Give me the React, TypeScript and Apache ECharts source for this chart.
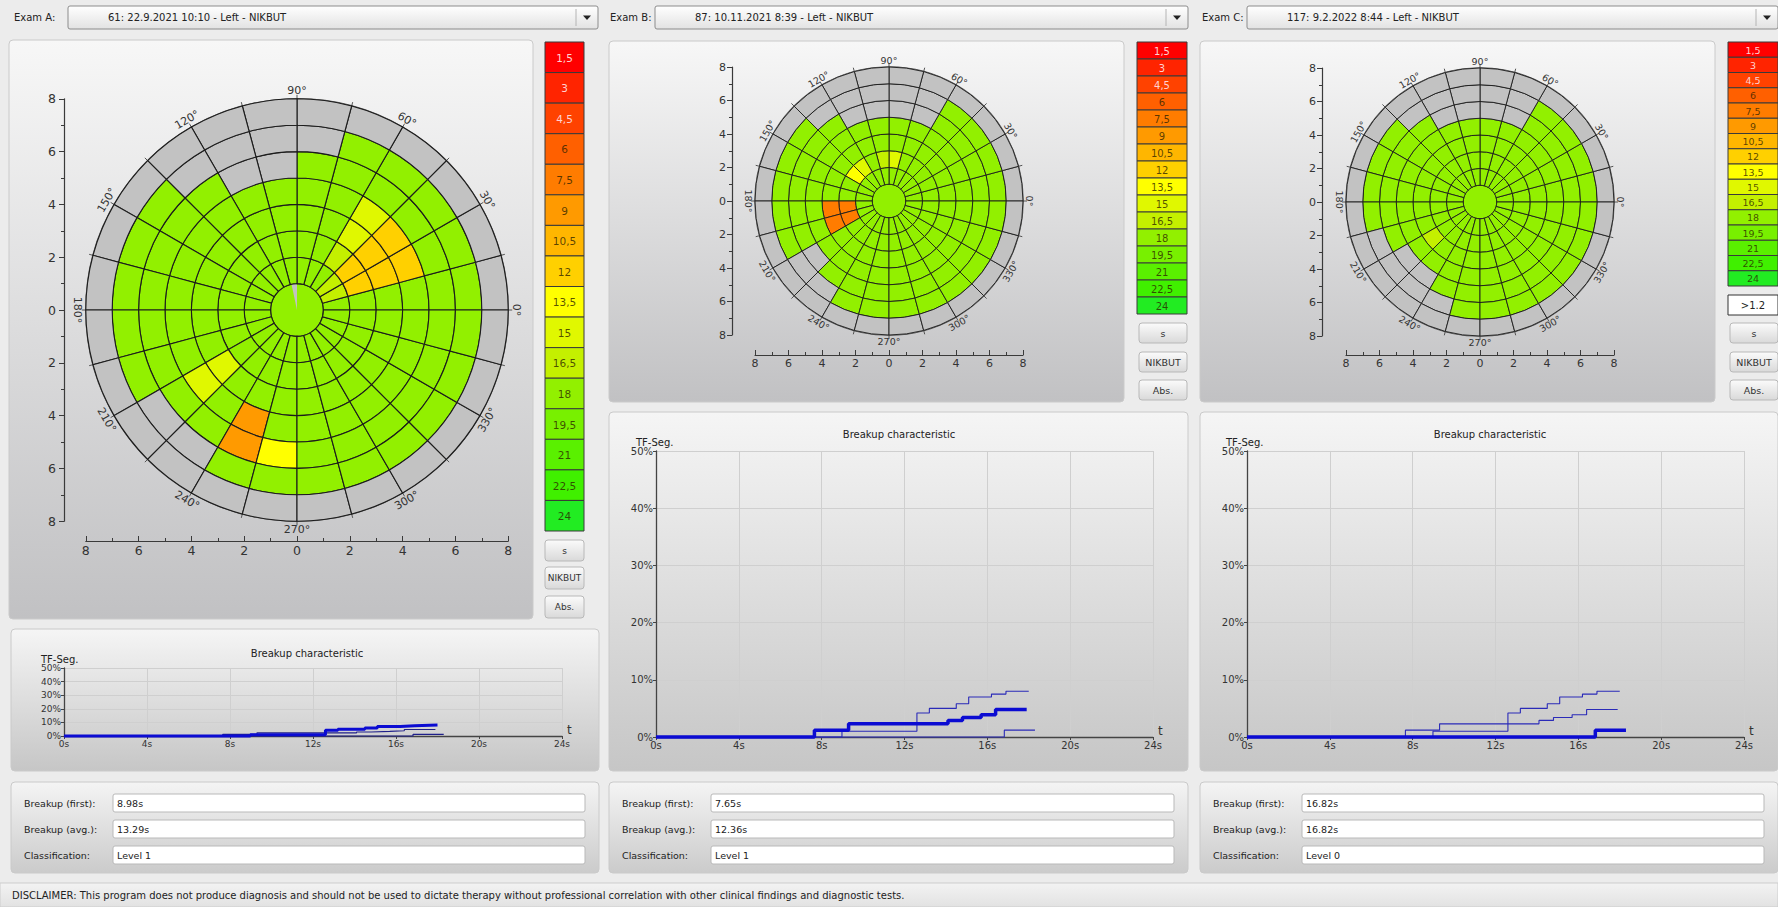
import React, { useEffect, useRef } from "react";
import * as echarts from "echarts";

const W = 1778;
const H = 907;
const FONT = "'DejaVu Sans', Verdana, sans-serif";

// ---------- colour scale (NIKBUT, seconds) ----------
const LEGEND_VALUES = [1.5, 3, 4.5, 6, 7.5, 9, 10.5, 12, 13.5, 15, 16.5, 18, 19.5, 21, 22.5, 24];
const LEGEND_LABELS = ["1,5", "3", "4,5", "6", "7,5", "9", "10,5", "12", "13,5", "15", "16,5", "18", "19,5", "21", "22,5", "24"];
const LEGEND_COLORS = ["#ff0000", "#ff2400", "#ff4200", "#ff6000", "#ff7c00", "#ff9a00", "#ffb600", "#ffd000", "#ffff00", "#e0f800", "#c4f000", "#92f000", "#78f000", "#5af000", "#40f000", "#22ec22"];
const NO_DATA = "#c2c2c2";
const BUTTON_LABELS = ["s", "NIKBUT", "Abs."];
const THRESHOLD_LABEL = ">1.2";

// ---------- polar map ----------
const ANGLE_LABELS = [0, 30, 60, 90, 120, 150, 180, 210, 240, 270, 300, 330];
const SECTOR_DEG = 15;
const MAX_R = 8;
const GREEN = 18;

// outer radius of the measured zone in each 15° sector (0°..345°)
const REACH_A = [7, 7, 7, 7, 7, 6, 5, 5, 6, 7, 7, 7, 7, 7, 6, 6, 7, 7, 7, 7, 7, 7, 7, 7];
const REACH_B = [7, 7, 7, 7, 5, 5, 5, 5, 6, 7, 7, 7, 7, 7, 5, 6, 7, 7, 7, 7, 7, 7, 7, 7];
const REACH_C = [7, 7, 7, 7, 5, 5, 5, 5, 6, 7, 7, 7, 7, 6, 5, 5, 6, 7, 7, 7, 7, 7, 7, 7];

// [sector, ring, breakup time s]
const CELLS_A = [
  [1, 1, 16.5], [2, 1, 16.5],
  [1, 2, 12], [1, 3, 12], [1, 4, 12],
  [2, 2, 12], [2, 3, 12], [2, 4, 12],
  [3, 2, 16.5], [3, 3, 15], [3, 4, 15],
  [14, 3, 15], [14, 4, 15],
  [16, 4, 9], [16, 5, 9],
  [17, 5, 13.5],
];
const CELLS_B = [
  [12, 2, 7.5], [12, 3, 7.5], [13, 2, 7.5], [13, 3, 7.5],
  [9, 2, 13.5], [8, 2, 15], [6, 2, 16.5], [5, 2, 15],
];
const CELLS_C = [[14, 3, 16.5]];

const CENTER_VALUES = [18, 18, 18];
const CENTER_GAP_A = [90, 102];

// ---------- breakup characteristic curves [t s, TF-Seg %] ----------
const CURVE_A = [[0, 0], [8.98, 1.0], [12.6, 4.2], [13.2, 5.0], [14.5, 5.8], [15.1, 7.0], [16.2, 7.5], [16.9, 8.0], [18.0, 8.0]];
const CURVE_B = [[0, 0], [7.65, 1.2], [9.3, 2.3], [14.1, 2.9], [14.8, 3.4], [15.7, 3.9], [16.4, 4.8], [17.9, 4.8]];
const CURVE_C = [[0, 0], [16.82, 1.2], [18.3, 1.2]];

// ---------- texts ----------
const EXAM_LABELS = ["Exam A:", "Exam B:", "Exam C:"];
const EXAM_NAMES = ["61: 22.9.2021 10:10 - Left - NIKBUT", "87: 10.11.2021 8:39 - Left - NIKBUT", "117: 9.2.2022 8:44 - Left - NIKBUT"];
const INFO_LABELS = ["Breakup (first):", "Breakup (avg.):", "Classification:"];
const BREAKUP_FIRST = ["8.98s", "7.65s", "16.82s"];
const BREAKUP_AVG = ["13.29s", "12.36s", "16.82s"];
const CLASSIFICATION = ["Level 1", "Level 1", "Level 0"];
const CHART_TITLE = "Breakup characteristic";
const Y_NAME = "TF-Seg.";
const DISCLAIMER = "DISCLAIMER: This program does not produce diagnosis and should not be used to dictate therapy without professional correlation with other clinical findings and diagnostic tests.";

const EXAMS = [
  { reach: REACH_A, cells: CELLS_A, gap: CENTER_GAP_A },
  { reach: REACH_B, cells: CELLS_B, gap: null },
  { reach: REACH_C, cells: CELLS_C, gap: null },
];
const CURVES = [CURVE_A, CURVE_B, CURVE_C];

// ---------- layout ----------
const LAYOUT = [
  {
    labelX: 14, combo: { x: 68, y: 6, w: 530, h: 23 },
    polarPanel: { x: 9, y: 40, w: 524, h: 579 },
    polar: { cx: 297, cy: 310, u: 26.4, yAxisX: 64, xAxisY: 541, fs: 12.5, angleFs: 11, angleOff: 8.5, lw: 1.1, margin: 8 },
    legend: { x: 545, y: 42, w: 39, h: 489, fs: 10.5 },
    extra: null,
    btnFs: 9,
    buttons: [{ x: 545, y: 540, w: 39, h: 21 }, { x: 545, y: 567, w: 39, h: 22 }, { x: 545, y: 596, w: 39, h: 22 }],
    linePanel: { x: 11, y: 629, w: 588, h: 142 },
    grid: { left: 64, top: 668, right: 562, bottom: 736 },
    title: { x: 307, y: 653 }, tf: { x: 41, y: 659 }, lineFs: 9, thick: 3, thin: "#20208a",
    info: { x: 11, y: 782, w: 588, h: 91 },
  },
  {
    labelX: 610, combo: { x: 655, y: 6, w: 533, h: 23 },
    polarPanel: { x: 609, y: 41, w: 515, h: 361 },
    polar: { cx: 889, cy: 201, u: 16.75, yAxisX: 732, xAxisY: 355, fs: 11, angleFs: 9.5, angleOff: 6.5, lw: 0.9, margin: 6 },
    legend: { x: 1137, y: 42, w: 50, h: 272, fs: 10 },
    extra: null,
    btnFs: 9.5,
    buttons: [{ x: 1139, y: 323, w: 48, h: 20 }, { x: 1139, y: 352, w: 48, h: 20 }, { x: 1139, y: 380, w: 48, h: 20 }],
    linePanel: { x: 609, y: 412, w: 579, h: 359 },
    grid: { left: 656, top: 451, right: 1153, bottom: 737 },
    title: { x: 899, y: 434 }, tf: { x: 636, y: 442 }, lineFs: 10, thick: 3.5, thin: "#2a2ab8",
    info: { x: 609, y: 782, w: 579, h: 91 },
  },
  {
    labelX: 1202, combo: { x: 1247, y: 6, w: 531, h: 23 },
    polarPanel: { x: 1200, y: 41, w: 515, h: 361 },
    polar: { cx: 1480, cy: 202, u: 16.75, yAxisX: 1322, xAxisY: 355, fs: 11, angleFs: 9.5, angleOff: 6.5, lw: 0.9, margin: 6 },
    legend: { x: 1728, y: 42, w: 50, h: 244, fs: 9.5 },
    extra: { x: 1728, y: 295, w: 50, h: 20 },
    btnFs: 9.5,
    buttons: [{ x: 1730, y: 323, w: 48, h: 20 }, { x: 1730, y: 352, w: 48, h: 20 }, { x: 1730, y: 380, w: 48, h: 20 }],
    linePanel: { x: 1200, y: 412, w: 578, h: 359 },
    grid: { left: 1247, top: 451, right: 1744, bottom: 737 },
    title: { x: 1490, y: 434 }, tf: { x: 1226, y: 442 }, lineFs: 10, thick: 3.5, thin: "#2a2ab8",
    info: { x: 1200, y: 782, w: 578, h: 91 },
  },
];

const grad = (c0: string, c1: string) => ({
  type: "linear", x: 0, y: 0, x2: 0, y2: 1,
  colorStops: [{ offset: 0, color: c0 }, { offset: 1, color: c1 }],
});
const rect = (x: number, y: number, w: number, h: number, fill: any, stroke: any, r = 0, z = -10, lw = 1) => ({
  type: "rect", shape: { x, y, width: w, height: h, r }, style: { fill, stroke, lineWidth: lw }, z, silent: true,
});
const txt = (x: number, y: number, text: string, fs: number, fill = "#222", align = "left", z = 10) => ({
  type: "text", x, y, z, silent: true,
  style: { text, fill, font: `${fs}px ${FONT}`, align, verticalAlign: "middle", textAlign: align, textVerticalAlign: "middle" },
});

const colorFor = (v: number) => {
  if (v < 0) return NO_DATA;
  let i = LEGEND_VALUES.findIndex((x) => x >= v - 1e-9);
  if (i < 0) i = LEGEND_VALUES.length - 1;
  return LEGEND_COLORS[i];
};

function buildCells(reach: number[], cells: number[][], center: number, gap: number[] | null) {
  const out: number[][] = [[0, 0, center, 360]];
  if (gap) out.push([0, gap[0], -1, gap[1] - gap[0]]);
  for (let k = 0; k < reach.length; k++) {
    for (let ring = 1; ring < MAX_R; ring++) {
      const ov = cells.find((c) => c[0] === k && c[1] === ring);
      const v = ov ? ov[2] : ring + 1 <= reach[k] ? GREEN : -1;
      out.push([ring, k * SECTOR_DEG, v, SECTOR_DEG]);
    }
  }
  return out;
}

function buildOption() {
  const graphic: any[] = [];
  const polar: any[] = [];
  const angleAxis: any[] = [];
  const radiusAxis: any[] = [];
  const grid: any[] = [];
  const xAxis: any[] = [];
  const yAxis: any[] = [];
  const series: any[] = [];

  graphic.push(rect(0, 883, W, 24, grad("#f3f3f3", "#e2e2e2"), "#cdcdcd", 0, -10));
  graphic.push(txt(12, 895, DISCLAIMER, 10, "#222", "left"));

  LAYOUT.forEach((L, i) => {
    // combo box
    const cb = L.combo;
    graphic.push(txt(L.labelX, cb.y + cb.h / 2, EXAM_LABELS[i], 10, "#222"));
    graphic.push(rect(cb.x, cb.y, cb.w, cb.h, grad("#ffffff", "#e2e2e2"), "#8c8c8c", 2, -5));
    graphic.push({ type: "line", shape: { x1: cb.x + cb.w - 22, y1: cb.y + 3, x2: cb.x + cb.w - 22, y2: cb.y + cb.h - 3 }, style: { stroke: "#b4b4b4", lineWidth: 1 }, z: 5, silent: true });
    const ax = cb.x + cb.w - 11, ay = cb.y + cb.h / 2;
    graphic.push({ type: "polygon", shape: { points: [[ax - 4, ay - 2], [ax + 4, ay - 2], [ax, ay + 2.5]] }, style: { fill: "#222" }, z: 5, silent: true });
    graphic.push(txt(cb.x + 40, ay, EXAM_NAMES[i], 10, "#222"));

    // panels
    const pp = L.polarPanel;
    graphic.push(rect(pp.x, pp.y, pp.w, pp.h, grad("#f7f7f7", "#c1c1c3"), "#cacaca", 4, -10));
    const lp = L.linePanel;
    graphic.push(rect(lp.x, lp.y, lp.w, lp.h, grad("#f5f5f5", "#c6c6c6"), "#cacaca", 4, -10));
    const ip = L.info;
    graphic.push(rect(ip.x, ip.y, ip.w, ip.h, grad("#f4f4f4", "#cbcbcb"), "#cacaca", 4, -10));

    // info texts
    const rows = [BREAKUP_FIRST[i], BREAKUP_AVG[i], CLASSIFICATION[i]];
    INFO_LABELS.forEach((lab, r) => {
      const cy = ip.y + 21 + r * 26;
      graphic.push(txt(ip.x + 13, cy, lab, 9.5, "#222"));
      const bx = ip.x + 102;
      graphic.push(rect(bx, cy - 9, ip.w - 102 - 14, 18, "#ffffff", "#b9b9b9", 2, -5));
      graphic.push(txt(bx + 4, cy, rows[r], 9.5, "#222"));
    });

    // legend
    const lg = L.legend;
    const ch = lg.h / LEGEND_LABELS.length;
    LEGEND_LABELS.forEach((lab, j) => {
      graphic.push(rect(lg.x, lg.y + j * ch, lg.w, ch, LEGEND_COLORS[j], "#3a3a3a", 0, 5, 1));
      graphic.push(txt(lg.x + lg.w / 2, lg.y + j * ch + ch / 2 + 0.5, lab, lg.fs, j < 3 ? "#ffd2d2" : "rgba(45,35,0,0.78)", "center", 6));
    });
    if (L.extra) {
      const e = L.extra;
      graphic.push(rect(e.x, e.y, e.w, e.h, "#ffffff", "#333333", 0, 5, 1));
      graphic.push(txt(e.x + e.w / 2, e.y + e.h / 2, THRESHOLD_LABEL, 10, "#222", "center", 6));
    }
    L.buttons.forEach((b, j) => {
      graphic.push(rect(b.x, b.y, b.w, b.h, grad("#fbfbfb", "#d9d9d9"), "#b8b8b8", 3, 5, 1));
      graphic.push(txt(b.x + b.w / 2, b.y + b.h / 2, BUTTON_LABELS[j], L.btnFs, "#333", "center", 6));
    });

    // line chart titles
    graphic.push(txt(L.title.x, L.title.y, CHART_TITLE, 10, "#222", "center"));
    graphic.push(txt(L.tf.x, L.tf.y, Y_NAME, 10, "#222", "left"));

    // polar map
    const P = L.polar;
    const R = P.u * MAX_R;
    polar.push({ center: [P.cx, P.cy], radius: R });
    angleAxis.push({
      polarIndex: i, type: "value", min: 0, max: 360, interval: SECTOR_DEG, startAngle: 0, clockwise: false,
      axisLine: { show: true, lineStyle: { color: "#555", width: 1.4 } },
      axisTick: { show: true, length: 4, lineStyle: { color: "#555" } },
      axisLabel: { show: false }, splitLine: { show: false },
    });
    radiusAxis.push({
      polarIndex: i, type: "value", min: 0, max: MAX_R,
      axisLine: { show: false }, axisTick: { show: false }, axisLabel: { show: false }, splitLine: { show: false },
    });
    const ex = EXAMS[i];
    const lw = P.lw;
    series.push({
      type: "custom", coordinateSystem: "polar", polarIndex: i, silent: true, z: 3,
      dimensions: ["r", "a", "v", "w"], encode: { radius: 0, angle: 1 },
      data: buildCells(ex.reach, ex.cells, CENTER_VALUES[i], ex.gap),
      renderItem: (params: any, api: any) => {
        const r0 = api.value(0), a0 = api.value(1), v = api.value(2), w = api.value(3);
        const c = api.coord([0, 0]);
        const pr = (r: number) => api.coord([r, 0])[0] - c[0];
        const isGap = r0 === 0 && w < 360;
        return {
          type: "sector",
          shape: {
            cx: c[0], cy: c[1], r0: pr(r0), r: pr(r0 + 1),
            startAngle: (-a0 * Math.PI) / 180, endAngle: (-(a0 + w) * Math.PI) / 180, clockwise: false,
          },
          style: { fill: colorFor(v), stroke: isGap ? null : "#1c1c1c", lineWidth: lw },
        };
      },
    });
    const off = P.angleOff, afs = P.angleFs;
    series.push({
      type: "custom", coordinateSystem: "polar", polarIndex: i, silent: true, z: 4,
      encode: { radius: 0, angle: 1 },
      data: ANGLE_LABELS.map((a) => [MAX_R, a]),
      renderItem: (params: any, api: any) => {
        const a = api.value(1);
        const c = api.coord([0, 0]);
        const p = api.coord([MAX_R, a]);
        const dx = p[0] - c[0], dy = p[1] - c[1];
        const len = Math.hypot(dx, dy) || 1;
        const k = (len + off) / len;
        const rot = ((a < 180 ? a - 90 : a - 270) * Math.PI) / 180;
        return {
          type: "text", x: c[0] + dx * k, y: c[1] + dy * k, rotation: rot,
          style: { text: `${a}°`, fill: "#333", font: `${afs}px ${FONT}`, align: "center", verticalAlign: "middle", textAlign: "center", textVerticalAlign: "middle" },
        };
      },
    });

    // cartesian scale around the polar map
    grid.push({ left: P.cx - R, top: P.cy - R, width: 2 * R, height: 2 * R, show: false });
    const axisCommon = {
      type: "value", gridIndex: i, min: -MAX_R, max: MAX_R, interval: 2,
      axisLine: { show: true, onZero: false, lineStyle: { color: "#3a3a3a", width: 1.2 } },
      minorTick: { show: true, splitNumber: 2, length: 3, lineStyle: { color: "#3a3a3a" } },
      splitLine: { show: false }, minorSplitLine: { show: false },
      axisLabel: { formatter: (v: number) => String(Math.abs(v)), fontSize: P.fs, color: "#333", fontFamily: FONT },
    };
    xAxis.push({
      ...axisCommon, position: "bottom", offset: P.xAxisY - (P.cy + R),
      axisTick: { show: true, inside: true, length: 5, lineStyle: { color: "#3a3a3a" } },
      axisLabel: { ...axisCommon.axisLabel, margin: 3 },
    });
    yAxis.push({
      ...axisCommon, position: "left", offset: P.cx - R - P.yAxisX,
      axisTick: { show: true, inside: false, length: 5, lineStyle: { color: "#3a3a3a" } },
      axisLabel: { ...axisCommon.axisLabel, margin: P.margin },
    });
  });

  // breakup characteristic charts
  LAYOUT.forEach((L, i) => {
    const g = L.grid;
    const gi = 3 + i;
    grid.push({ left: g.left, top: g.top, width: g.right - g.left, height: g.bottom - g.top, show: false });
    xAxis.push({
      type: "value", gridIndex: gi, min: 0, max: 24, interval: 4,
      name: "t", nameLocation: "end", nameGap: 5,
      nameTextStyle: { fontSize: 12, color: "#333", verticalAlign: "bottom", fontFamily: FONT },
      axisLine: { show: true, onZero: false, lineStyle: { color: "#444", width: 1.3 } },
      axisTick: { show: true, length: 3, lineStyle: { color: "#444" } },
      axisLabel: { formatter: "{value}s", fontSize: L.lineFs, color: "#333", margin: 3, fontFamily: FONT },
      splitLine: { show: true, lineStyle: { color: "#cfcfcf", width: 1 } },
    });
    yAxis.push({
      type: "value", gridIndex: gi, min: 0, max: 50, interval: 10,
      axisLine: { show: true, onZero: false, lineStyle: { color: "#444", width: 1.3 } },
      axisTick: { show: true, length: 3, lineStyle: { color: "#444" } },
      axisLabel: { formatter: "{value}%", fontSize: L.lineFs, color: "#333", margin: 3, fontFamily: FONT },
      splitLine: { show: true, lineStyle: { color: "#cfcfcf", width: 1 } },
    });
    CURVES.forEach((c, ci) => {
      if (ci === i) return;
      series.push({
        type: "line", xAxisIndex: gi, yAxisIndex: gi, data: c, step: "end", symbol: "none", clip: false,
        silent: true, z: 3, lineStyle: { color: L.thin, width: 1.1 },
      });
    });
    series.push({
      type: "line", xAxisIndex: gi, yAxisIndex: gi, data: CURVES[i], step: "end", symbol: "none", clip: false,
      silent: true, z: 4, lineStyle: { color: "#0b0bd2", width: L.thick },
    });
  });

  return {
    animation: false,
    backgroundColor: "#ececec",
    textStyle: { fontFamily: FONT },
    tooltip: { show: false },
    graphic: { elements: graphic },
    polar, angleAxis, radiusAxis, grid, xAxis, yAxis, series,
  };
}

export default function App() {
  const ref = useRef<HTMLDivElement>(null);
  useEffect(() => {
    if (!ref.current) return;
    const chart = echarts.init(ref.current, undefined, { renderer: "svg", width: W, height: H });
    chart.setOption(buildOption() as any);
    return () => chart.dispose();
  }, []);
  return <div ref={ref} style={{ position: "absolute", left: 0, top: 0, width: W, height: H }} />;
}
